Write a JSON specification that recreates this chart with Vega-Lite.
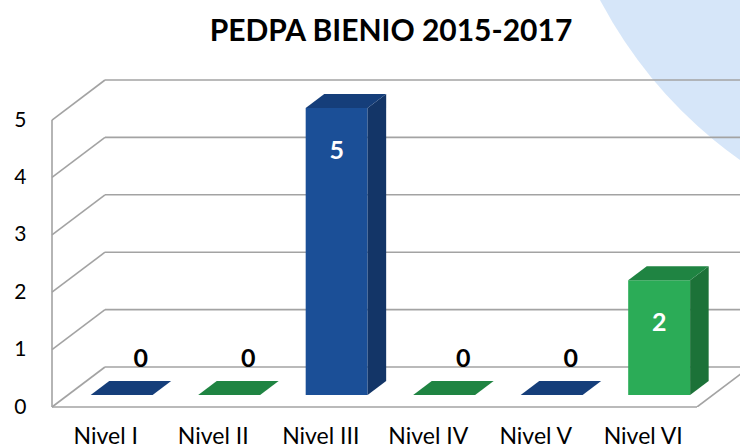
{
  "$schema": "https://vega.github.io/schema/vega-lite/v6.json",
  "width": 688,
  "height": 407,
  "autosize": {"type": "none"},
  "padding": {"left": 52, "top": 0, "right": 0, "bottom": 39},
  "background": "white",
  "config": {
    "view": {"stroke": null},
    "font": "Lato",
    "axisY": {"domain": false, "ticks": false, "grid": false, "labelPadding": 26,
              "labelFont": "Lato", "labelFontSize": 21, "labelColor": "black", "labelAlign": "right"}
  },
  "title": {
    "text": "PEDPA BIENIO 2015-2017",
    "font": "Lato",
    "fontSize": 30,
    "fontWeight": "bold",
    "color": "black",
    "anchor": "middle",
    "frame": "group",
    "offset": -47,
    "dx": -5
  },
  "datasets": {
    "niveles": [
      {"nivel": "Nivel I", "valor": 0},
      {"nivel": "Nivel II", "valor": 0},
      {"nivel": "Nivel III", "valor": 5},
      {"nivel": "Nivel IV", "valor": 0},
      {"nivel": "Nivel V", "valor": 0},
      {"nivel": "Nivel VI", "valor": 2}
    ],
    "grid": [{"g": 0}, {"g": 1}, {"g": 2}, {"g": 3}, {"g": 4}, {"g": 5}]
  },
  "data": {"name": "niveles"},
  "transform": [
    {"window": [{"op": "row_number", "as": "rn"}]},
    {"calculate": "datum.rn - 1", "as": "idx"}
  ],
  "resolve": {"scale": {"color": "independent"}},
  "layer": [
    {
      "data": {"values": [{}]},
      "mark": {"type": "point", "shape": "circle", "filled": true, "size": 828100, "color": "#D6E6F9", "opacity": 1, "strokeWidth": 0, "clip": true},
      "encoding": {
        "x": {"datum": 8.847, "type": "quantitative", "scale": {"domain": [0, 6.4], "nice": false, "zero": false}, "axis": null},
        "y": {"datum": 10.77, "type": "quantitative", "scale": {"domain": [0, 7.091], "nice": false, "zero": false}, "axis": {"title": null, "values": [0, 1, 2, 3, 4, 5]}}
      }
    },
    {
      "data": {"name": "grid"},
      "transform": [{"calculate": "datum.g + 0.697", "as": "gb"}],
      "mark": {"type": "rule", "color": "#A3A3A3", "strokeWidth": 1.6},
      "encoding": {
        "x": {"datum": 0, "type": "quantitative", "axis": null},
        "x2": {"datum": 0.493},
        "y": {"field": "g", "type": "quantitative", "axis": {"title": null, "values": [0, 1, 2, 3, 4, 5]}},
        "y2": {"field": "gb"}
      }
    },
    {
      "data": {"name": "grid"},
      "transform": [{"calculate": "datum.g + 0.697", "as": "gb"}],
      "mark": {"type": "rule", "color": "#A3A3A3", "strokeWidth": 1.6},
      "encoding": {
        "x": {"datum": 0.493, "type": "quantitative", "axis": null},
        "x2": {"datum": 6.4},
        "y": {"field": "gb", "type": "quantitative", "axis": {"title": null, "values": [0, 1, 2, 3, 4, 5]}}
      }
    },
    {
      "data": {"values": [{}]},
      "mark": {"type": "rule", "color": "#A3A3A3", "strokeWidth": 1.6},
      "encoding": {
        "x": {"datum": 0, "type": "quantitative", "axis": null},
        "y": {"datum": 0, "type": "quantitative", "axis": {"title": null, "values": [0, 1, 2, 3, 4, 5]}},
        "y2": {"datum": 5}
      }
    },
    {
      "data": {"values": [{}]},
      "mark": {"type": "rule", "color": "#A3A3A3", "strokeWidth": 1.6},
      "encoding": {
        "x": {"datum": 0, "type": "quantitative", "axis": null},
        "x2": {"datum": 6},
        "y": {"datum": 0, "type": "quantitative", "axis": {"title": null, "values": [0, 1, 2, 3, 4, 5]}}
      }
    },
    {
      "data": {"values": [{}]},
      "mark": {"type": "rule", "color": "#A3A3A3", "strokeWidth": 1.6, "clip": true},
      "encoding": {
        "x": {"datum": 6, "type": "quantitative", "axis": null},
        "x2": {"datum": 6.493},
        "y": {"datum": 0, "type": "quantitative", "axis": {"title": null, "values": [0, 1, 2, 3, 4, 5]}},
        "y2": {"datum": 0.697}
      }
    },
    {
      "transform": [
        {"calculate": "datum.idx + 0.3599", "as": "fx0"},
        {"calculate": "datum.idx + 0.9359", "as": "fx1"},
        {"calculate": "0.209", "as": "fy0"},
        {"calculate": "datum.valor + 0.209", "as": "fy1"}
      ],
      "mark": {"type": "rect"},
      "encoding": {
        "x": {"field": "fx0", "type": "quantitative", "axis": null},
        "x2": {"field": "fx1"},
        "y": {"field": "fy0", "type": "quantitative", "axis": {"title": null, "values": [0, 1, 2, 3, 4, 5]}},
        "y2": {"field": "fy1"},
        "color": {"field": "nivel", "type": "nominal", "sort": null, "legend": null,
                  "scale": {"domain": ["Nivel I", "Nivel II", "Nivel III", "Nivel IV", "Nivel V", "Nivel VI"],
                            "range": ["#1B4F97", "#2BAC57", "#1B4F97", "#2BAC57", "#1B4F97", "#2BAC57"]}}
      }
    },
    {
      "transform": [
        {"calculate": "[0, 1]", "as": "t"},
        {"flatten": ["t"]},
        {"calculate": "datum.idx + 0.9359 + datum.t * 0.1726", "as": "sx"},
        {"calculate": "0.209 + datum.t * 0.244", "as": "sy0"},
        {"calculate": "datum.valor + 0.209 + datum.t * 0.244", "as": "sy1"}
      ],
      "mark": {"type": "area", "orient": "vertical"},
      "encoding": {
        "x": {"field": "sx", "type": "quantitative", "axis": null},
        "y": {"field": "sy0", "type": "quantitative", "axis": {"title": null, "values": [0, 1, 2, 3, 4, 5]}},
        "y2": {"field": "sy1"},
        "color": {"field": "nivel", "type": "nominal", "sort": null, "legend": null,
                  "scale": {"domain": ["Nivel I", "Nivel II", "Nivel III", "Nivel IV", "Nivel V", "Nivel VI"],
                            "range": ["#133567", "#1C7238", "#133567", "#1C7238", "#133567", "#1C7238"]}}
      }
    },
    {
      "transform": [
        {"calculate": "[0, 1]", "as": "t"},
        {"flatten": ["t"]},
        {"calculate": "datum.idx + 0.3599 + datum.t * 0.1726", "as": "tx0"},
        {"calculate": "datum.idx + 0.9359 + datum.t * 0.1726", "as": "tx1"},
        {"calculate": "datum.valor + 0.209 + datum.t * 0.244", "as": "ty"}
      ],
      "mark": {"type": "area", "orient": "horizontal"},
      "encoding": {
        "y": {"field": "ty", "type": "quantitative", "axis": {"title": null, "values": [0, 1, 2, 3, 4, 5]}},
        "x": {"field": "tx0", "type": "quantitative", "axis": null},
        "x2": {"field": "tx1"},
        "color": {"field": "nivel", "type": "nominal", "sort": null, "legend": null,
                  "scale": {"domain": ["Nivel I", "Nivel II", "Nivel III", "Nivel IV", "Nivel V", "Nivel VI"],
                            "range": ["#153E7A", "#1F8442", "#153E7A", "#1F8442", "#153E7A", "#1F8442"]}}
      }
    },
    {
      "transform": [
        {"filter": "datum.valor > 0"},
        {"calculate": "datum.idx + 0.648", "as": "lx"},
        {"calculate": "datum.valor + 0.209", "as": "ly"}
      ],
      "mark": {"type": "text", "font": "Lato", "fontSize": 25, "fontWeight": "bold", "color": "white", "baseline": "middle", "align": "center", "dy": 43},
      "encoding": {
        "x": {"field": "lx", "type": "quantitative", "axis": null},
        "y": {"field": "ly", "type": "quantitative", "axis": {"title": null, "values": [0, 1, 2, 3, 4, 5]}},
        "text": {"field": "valor", "type": "quantitative"}
      }
    },
    {
      "transform": [
        {"filter": "datum.valor == 0"},
        {"calculate": "datum.idx + 0.826", "as": "lx"},
        {"calculate": "datum.valor + 0.453", "as": "ly"}
      ],
      "mark": {"type": "text", "font": "Lato", "fontSize": 25, "fontWeight": "bold", "color": "black", "baseline": "middle", "align": "center", "dy": -22},
      "encoding": {
        "x": {"field": "lx", "type": "quantitative", "axis": null},
        "y": {"field": "ly", "type": "quantitative", "axis": {"title": null, "values": [0, 1, 2, 3, 4, 5]}},
        "text": {"field": "valor", "type": "quantitative"}
      }
    },
    {
      "transform": [
        {"calculate": "datum.idx + 0.5", "as": "cx"},
        {"calculate": "0", "as": "cy"}
      ],
      "mark": {"type": "text", "font": "Lato", "fontSize": 23, "color": "black", "baseline": "alphabetic", "align": "center", "dy": 37},
      "encoding": {
        "x": {"field": "cx", "type": "quantitative", "axis": null},
        "y": {"field": "cy", "type": "quantitative", "axis": {"title": null, "values": [0, 1, 2, 3, 4, 5]}},
        "text": {"field": "nivel"}
      }
    }
  ]
}
